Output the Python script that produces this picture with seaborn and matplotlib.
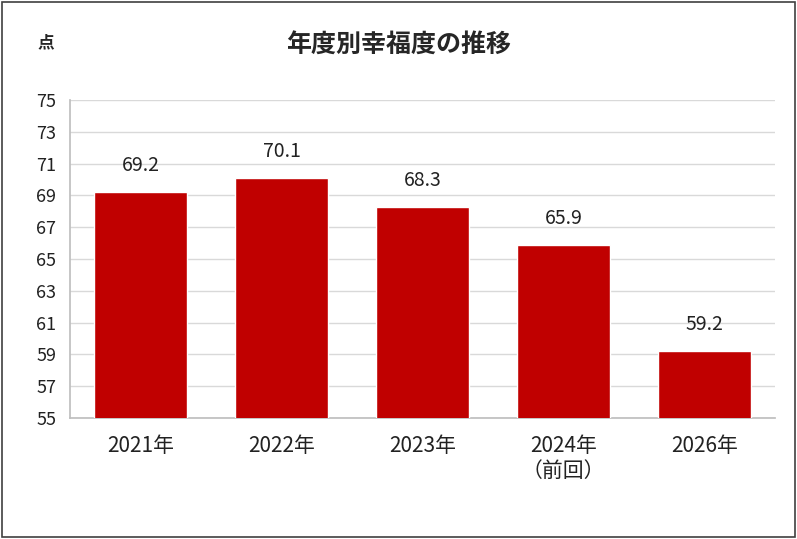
import matplotlib
matplotlib.use("Agg")
import matplotlib.pyplot as plt
import seaborn as sns
import pandas as pd
from matplotlib.patches import Rectangle

categories = ["2021年", "2022年", "2023年", "2024年\n（前回）", "2026年"]
values = [69.2, 70.1, 68.3, 65.9, 59.2]
yticks = list(range(55, 76, 2))

sns.set_theme(style="white")
plt.rcParams['font.family'] = ['Noto Sans CJK JP', 'DejaVu Sans']

fig = plt.figure(figsize=(7.97, 5.39), dpi=100)
ax = fig.add_axes([0.088, 0.2245, 0.884, 0.59])
df = pd.DataFrame({"cat": categories, "val": values})
sns.barplot(data=df, x="cat", y="val", color="#C00000", saturation=1, width=0.66, ax=ax, zorder=3)
ax.set_ylim(55, 75)
ax.set_yticks(yticks)
ax.yaxis.grid(True, color="#D9D9D9", linewidth=1, zorder=0)
ax.set_xlabel("")
ax.set_ylabel("")
for s in ["top", "right"]:
    ax.spines[s].set_visible(False)
for s in ["left", "bottom"]:
    ax.spines[s].set_color("#BFBFBF")
ax.tick_params(axis="y", labelsize=13, colors="#222222", pad=4)
ax.tick_params(axis="x", labelsize=15, colors="#222222", pad=6)
for i, v in enumerate(values):
    ax.text(i, v + 1.0, f"{v:.1f}", ha="center", va="bottom", fontsize=14, color="#222222")
fig.text(0.5, 0.915, "年度別幸福度の推移", ha="center", va="center", fontsize=18, fontweight="bold")
fig.text(0.057, 0.922, "点", ha="center", va="center", fontsize=12, fontweight="bold")
fig.patches.append(Rectangle((0.003, 0.004), 0.994, 0.992, transform=fig.transFigure,
                             fill=False, edgecolor="#404040", linewidth=1.2))
fig.savefig("out.png", dpi=100)
